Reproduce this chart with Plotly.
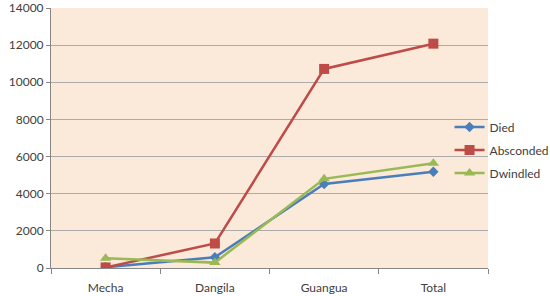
import plotly.graph_objects as go

categories = ["Mecha", "Dangila", "Guangua", "Total"]
died = [40, 580, 4520, 5180]
absconded = [30, 1320, 10720, 12080]
dwindled = [520, 290, 4800, 5640]

fig = go.Figure()
series = [
    ("Died", died, "#4A7EBB", "diamond", 8),
    ("Absconded", absconded, "#BE4B48", "square", 10),
    ("Dwindled", dwindled, "#98B954", "triangle-up", 10),
]
for name, vals, col, sym, sz in series:
    fig.add_trace(go.Scatter(
        x=categories, y=vals, name=name, mode="lines+markers",
        legendgroup=name,
        line=dict(color=col, width=2.5),
        marker=dict(symbol=sym, size=sz, color=col),
    ))

font = "Lato, Liberation Sans, sans-serif"
fig.update_layout(
    width=550, height=296,
    margin=dict(l=51, r=62, t=8, b=28, autoexpand=False),
    paper_bgcolor="white",
    plot_bgcolor="#FBE9D9",
    font=dict(family=font, size=12, color="#404040"),
    showlegend=True,
    legend=dict(x=0.912, y=0.598, xanchor="left", yanchor="top",
                bgcolor="rgba(0,0,0,0)", font=dict(size=12, color="#404040"),
                itemwidth=30, tracegroupgap=4),
)
fig.update_xaxes(
    type="category", tickson="boundaries", ticks="outside", ticklen=5,
    tickcolor="#868686", showline=True, linecolor="#868686", linewidth=1,
    showgrid=False, range=[-0.5, 3.5], ticklabelstandoff=9,
)
fig.update_yaxes(
    range=[0, 14000], dtick=2000, ticks="outside", ticklen=4,
    tickcolor="#868686", showline=True, linecolor="#868686",
    gridcolor="#ABABAB", gridwidth=1, zeroline=False, tickformat="d",
)
fig.write_html("out.html", config={"displayModeBar": False},
               post_script="document.body.style.margin='0';")
